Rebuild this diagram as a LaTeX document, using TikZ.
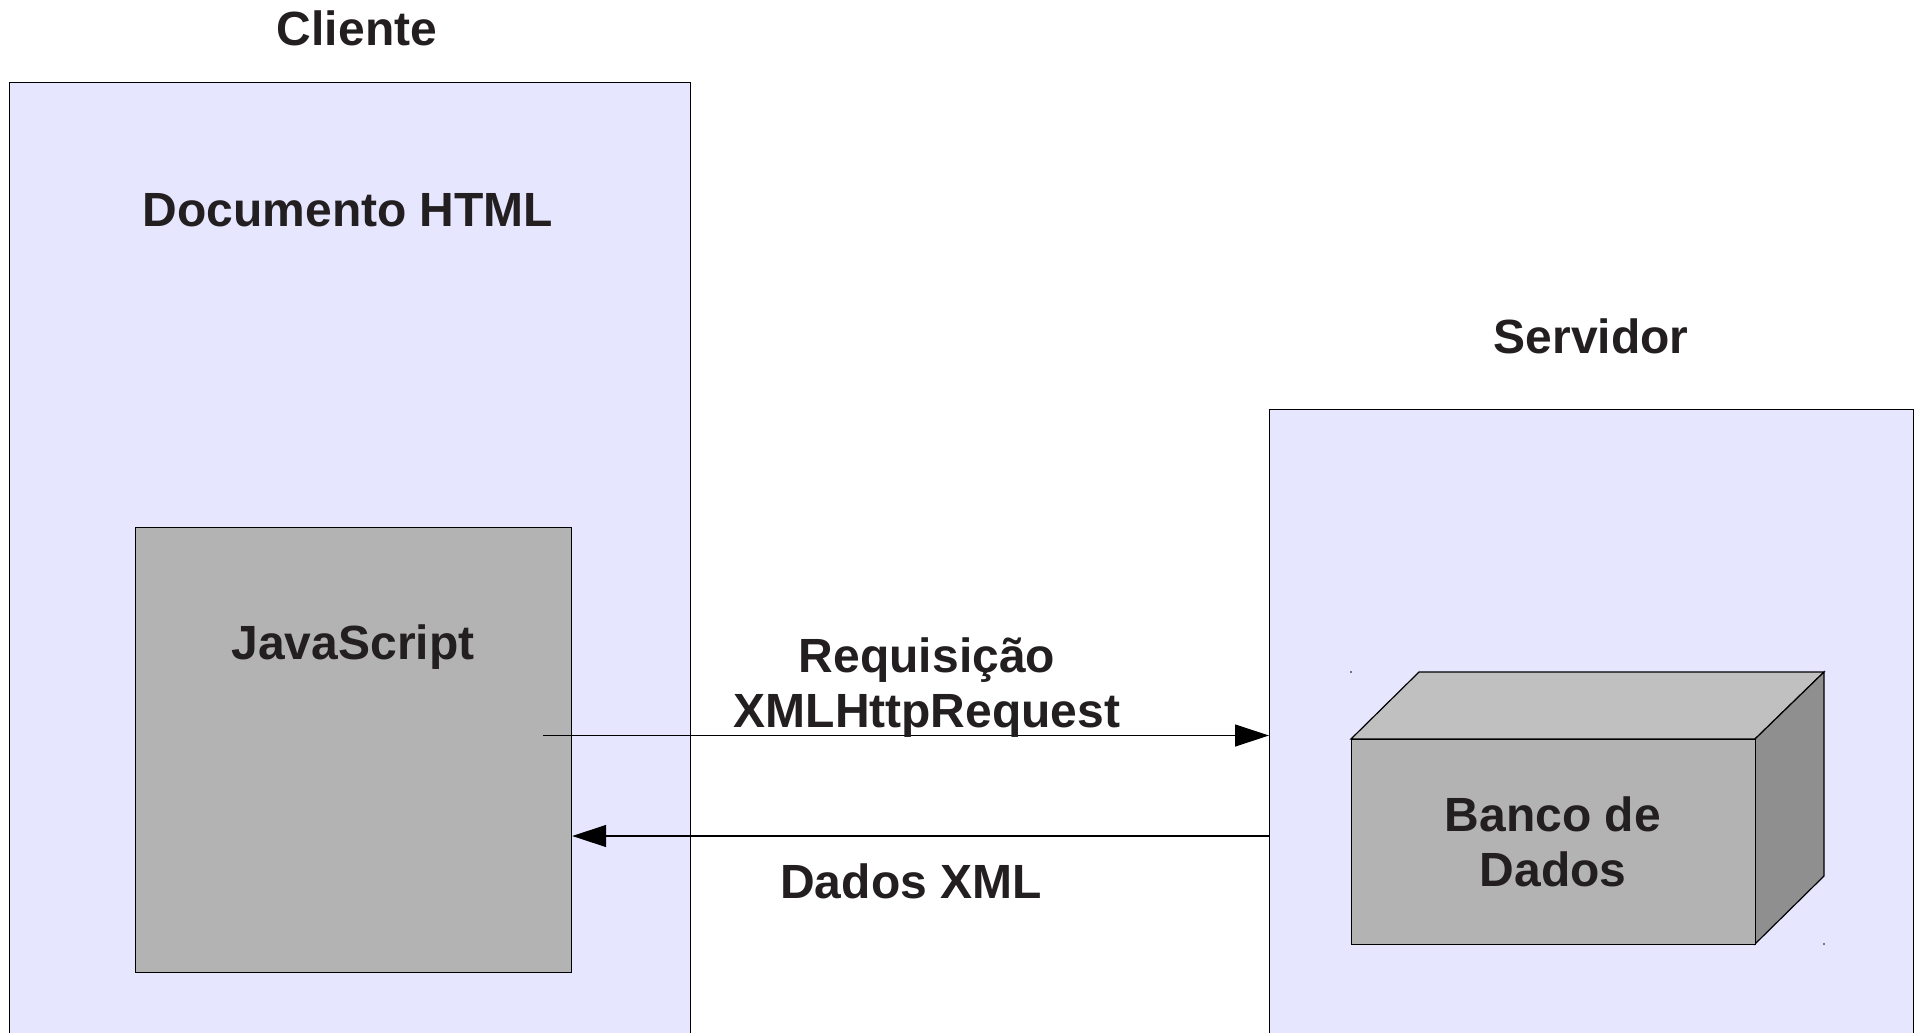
\documentclass[tikz,border=0pt]{standalone}
\usepackage{fontspec}
\setmainfont{Liberation Sans}
\usetikzlibrary{arrows.meta}
\definecolor{lav}{RGB}{230,230,255}
\definecolor{gr}{RGB}{179,179,179}
\definecolor{grtop}{RGB}{192,192,192}
\definecolor{grside}{RGB}{143,143,143}
\definecolor{txt}{RGB}{35,31,32}
\tikzset{
  lbl/.style={font=\fontsize{24}{27.5}\selectfont\bfseries, text=txt, inner sep=0pt, align=center},
  area/.style={draw=black, line width=0.6pt, fill=lav, anchor=north west, inner sep=0pt},
  jsbox/.style={draw=black, line width=0.6pt, fill=gr, anchor=north west, inner sep=0pt},
  conn/.style={line width=0.6pt, -{Triangle[length=17pt,width=11pt]}}
}
\begin{document}
\begin{tikzpicture}[x=0.5pt,y=-0.5pt]
\useasboundingbox (0,0) rectangle (1922,1033);
\clip (0,0) rectangle (1922,1033);
\fill[white] (0,0) rectangle (1922,1033);
% client
\node[area, minimum width=340.5pt, minimum height=485pt] (client) at (8.5,82) {};
\node[lbl] (clientt) at (357,28) {Cliente};
\node[lbl] (doc) at (348,210) {Documento HTML};
\node[jsbox, minimum width=218pt, minimum height=222.5pt] (js) at (135,527) {};
\node[lbl] (jst) at (353,647) {JavaScript};
% server
\node[area, minimum width=322pt, minimum height=320pt] (server) at (1269,409) {};
\node[lbl] (servt) at (1591,336) {Servidor};
% cube
\coordinate (f1) at (1351,739);
\coordinate (f2) at (1755,739);
\coordinate (f3) at (1755,944);
\coordinate (f4) at (1351,944);
\coordinate (b1) at (1419,672);
\coordinate (b2) at (1824,672);
\coordinate (b3) at (1824,876);
\filldraw[fill=grtop, draw=black, line width=0.6pt] (f1) -- (b1) -- (b2) -- (f2) -- cycle;
\filldraw[fill=grside, draw=black, line width=0.6pt] (f2) -- (b2) -- (b3) -- (f3) -- cycle;
\node[jsbox, minimum width=202pt, minimum height=102.5pt] (db) at (f1) {};
\node[lbl] (dbt) at (1553,842) {Banco de\\Dados};
\fill[black] (1351,672) circle (0.4pt);
\fill[black] (1824,944) circle (0.4pt);
% connectors
\coordinate (reqstart) at (543,735.5);
\coordinate (respy) at (0,836);
\draw[conn] (reqstart) -- (server.west |- reqstart);
\draw[conn] (server.west |- respy) -- (js.east |- respy);
\node[lbl] (req) at (927,688) {Requisição\\XMLHttpRequest};
\node[lbl] (resp) at (911,881) {Dados XML};
\end{tikzpicture}
\end{document}
